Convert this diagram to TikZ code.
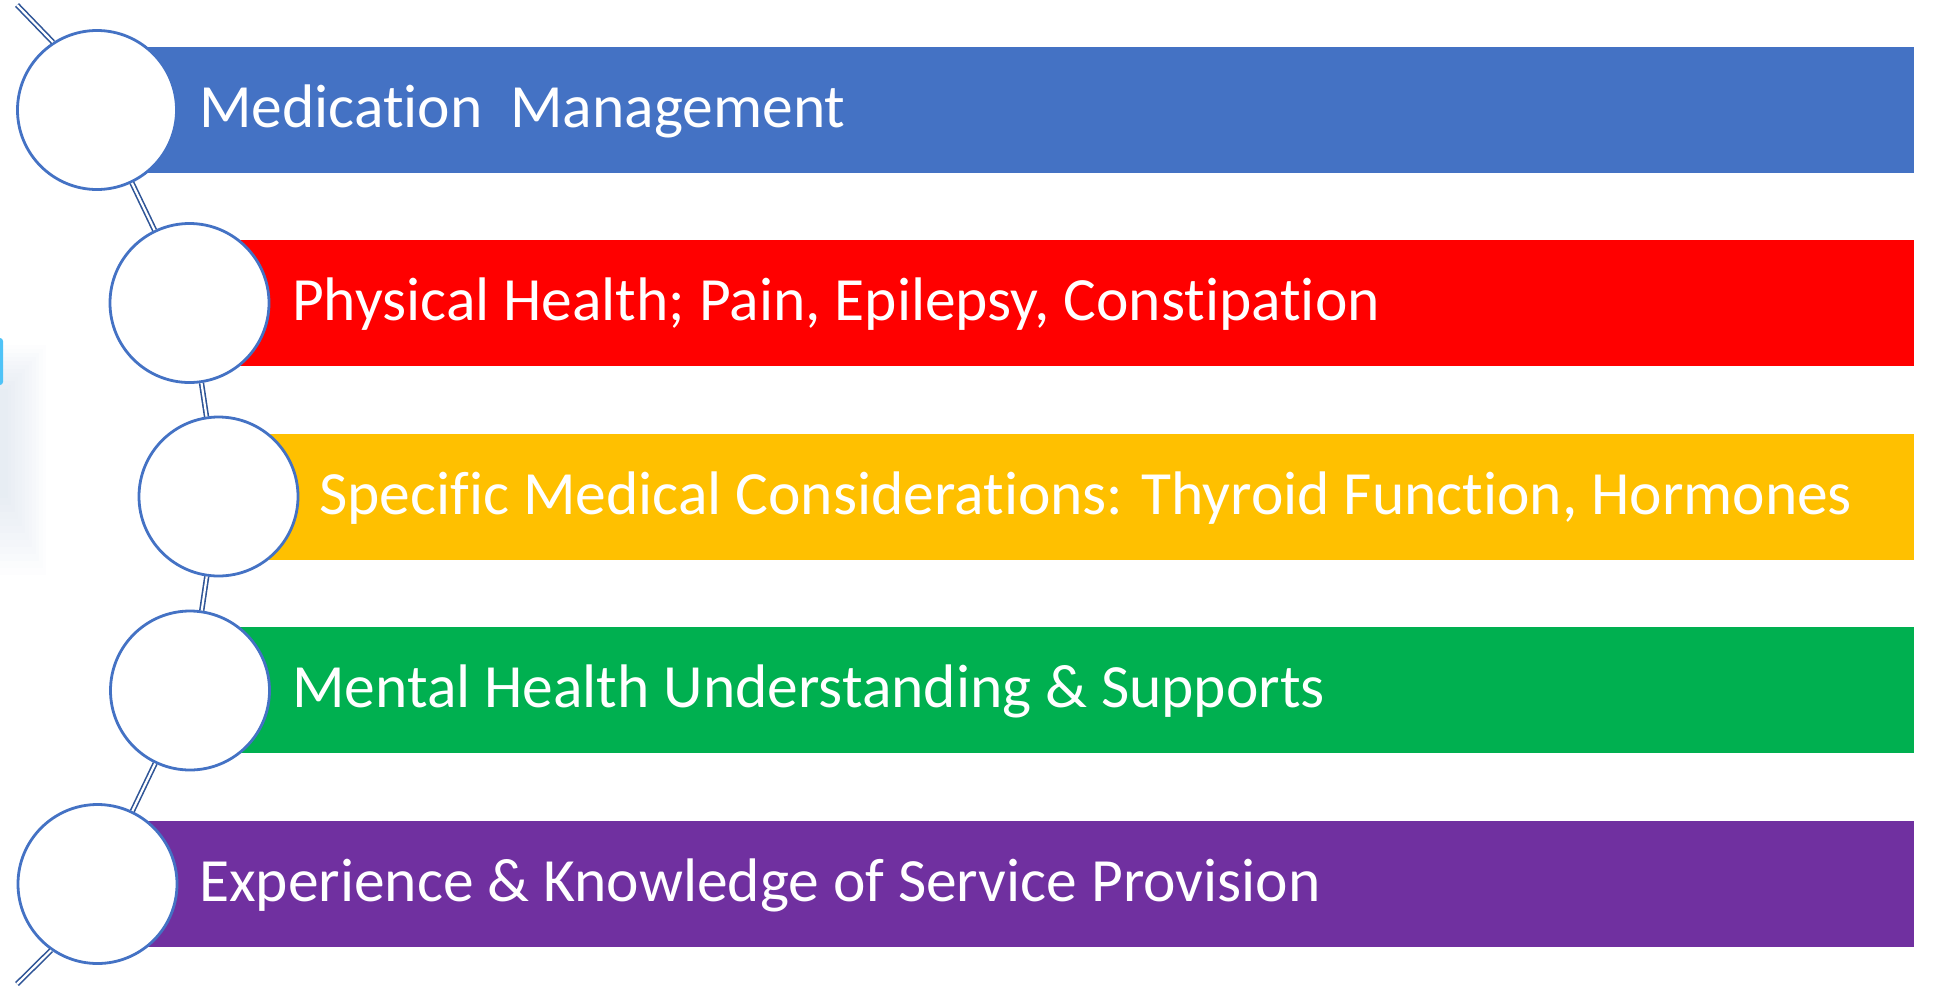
\documentclass[tikz,border=0pt]{standalone}
\usepackage{fontspec}
\setmainfont[Ligatures={NoCommon}]{Carlito}
\definecolor{barblue}{HTML}{4472C4}
\definecolor{barred}{HTML}{FF0000}
\definecolor{baryellow}{HTML}{FFC000}
\definecolor{bargreen}{HTML}{00B050}
\definecolor{barpurple}{HTML}{7030A0}
\definecolor{ringblue}{HTML}{4472C4}
\definecolor{linkblue}{HTML}{2F5597}
\definecolor{glowcyan}{HTML}{4FC3F7}
\definecolor{glowgrey}{HTML}{8FA8C8}
\begin{document}
\begin{tikzpicture}[x=1pt,y=-1pt,
  bar/.style={rectangle, inner sep=0pt, minimum height=126pt, anchor=east, draw=none},
  ring/.style={circle, draw=ringblue, line width=2.8pt, fill=white, inner sep=0pt, minimum size=159pt},
  label/.style={anchor=base west, inner sep=0pt, text=white, font=\fontsize{61.5}{74}\selectfont},
  link/.style={draw=linkblue, line width=1.6pt, double=white, double distance=2.2pt}]
\useasboundingbox (0,0) rectangle (1934,988);

% soft glow at the left margin
\foreach \i in {0,...,11}
  \fill[glowgrey, opacity=0.018]
    (0,{345+4*\i}) rectangle ({46-3.5*\i},{575-7*\i});
\fill[glowcyan, rounded corners=3pt] (-6,338) rectangle (3,385);

% coloured bars
\node[bar, fill=barblue,   minimum width=1817pt] (b1) at (1914,110) {};
\node[bar, fill=barred,    minimum width=1725pt] (b2) at (1914,303) {};
\node[bar, fill=baryellow, minimum width=1696pt] (b3) at (1914,497) {};
\node[bar, fill=bargreen,  minimum width=1724pt] (b4) at (1914,690) {};
\node[bar, fill=barpurple, minimum width=1817pt] (b5) at (1914,884) {};

% bar captions
\node[label] (t1) at (199,127) {Medication\ \ Management};
\node[label] (t2) at (292,320) {Physical Health; Pain, Epilepsy, Constipation};
\node[label] (t3) at (319,514) {Specific Medical Considerations: Thyroid Function, Hormones};
\node[label] (t4) at (292,707) {Mental Health Understanding \& Supports};
\node[label] (t5) at (199,901) {Experience \& Knowledge of Service Provision};

% rings
\node[ring] (c1) at (97,110) {};
\node[ring] (c2) at (189.5,303) {};
\node[ring] (c3) at (218.5,496.5) {};
\node[ring] (c4) at (190,690.5) {};
\node[ring] (c5) at (97.5,884) {};

% links along the spine
\coordinate (top) at (17,5);
\coordinate (bottom) at (17,984);
\draw[link] (top) -- (c1.123.5);
\draw[link] (c1) -- (c2);
\draw[link] (c2) -- (c3);
\draw[link] (c3) -- (c4);
\draw[link] (c4) -- (c5);
\draw[link] (c5.235.4) -- (bottom);
\end{tikzpicture}
\end{document}
